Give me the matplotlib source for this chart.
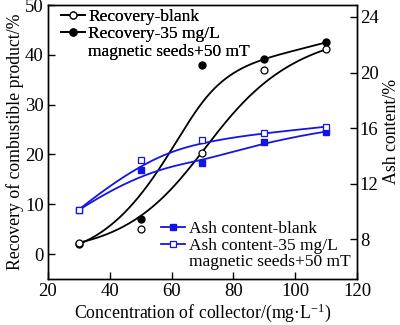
import numpy as np
import matplotlib
matplotlib.use("Agg")
import matplotlib.pyplot as plt
from matplotlib.lines import Line2D

plt.rcParams['font.family'] = ['Liberation Serif', 'DejaVu Serif']
plt.rcParams['mathtext.fontset'] = 'custom'
plt.rcParams['mathtext.rm'] = 'Liberation Serif'
plt.rcParams['mathtext.it'] = 'Liberation Serif:italic'

# ---- data ----
concentration = [30, 50, 70, 90, 110]
recovery_blank = [2.3, 5.0, 20.2, 37.0, 41.1]
recovery_seeds = [2.0, 7.0, 37.9, 39.2, 42.5]
ash_blank = [10.1, 12.95, 13.47, 15.03, 15.75]
ash_seeds = [10.13, 13.67, 15.15, 15.63, 16.1]

x_ticks = [20, 40, 60, 80, 100, 120]
left_ticks = [0, 10, 20, 30, 40, 50]
right_ticks = [8, 12, 16, 20, 24]


def bspline(px, py, k=3, n=300):
    px = np.asarray(px, float)
    py = np.asarray(py, float)
    m = len(px)
    knots = np.concatenate([np.zeros(k), np.linspace(0, 1, m - k + 1), np.ones(k)])
    t = np.linspace(0, 1, n)
    t[-1] -= 1e-10
    N = np.zeros((len(knots) - 1, n))
    for i in range(len(knots) - 1):
        N[i] = ((t >= knots[i]) & (t < knots[i + 1])).astype(float)
    for d in range(1, k + 1):
        Nn = np.zeros((len(knots) - 1 - d, n))
        for i in range(len(knots) - 1 - d):
            a = knots[i + d] - knots[i]
            b = knots[i + d + 1] - knots[i + 1]
            term = np.zeros(n)
            if a > 0:
                term += (t - knots[i]) / a * N[i]
            if b > 0:
                term += (knots[i + d + 1] - t) / b * N[i + 1]
            Nn[i] = term
        N = Nn
    return N.T @ px, N.T @ py


fig = plt.figure(figsize=(4.0, 3.25), dpi=100)
ax = fig.add_axes([0.12, 0.1415, 0.7725, 0.843])
ax2 = ax.twinx()

blk = 'black'
blu = '#1414e6'
lw = 1.3
ms = 5

# recovery (left axis)
bx, by = bspline(concentration, recovery_blank)
ax.plot(bx, by, color=blk, lw=lw)
sx, sy = bspline(concentration, recovery_seeds)
ax.plot(sx, sy, color=blk, lw=lw)
ax.plot(concentration, recovery_seeds, 'o', color=blk, ms=ms, mec=blk, mfc=blk)
ax.plot(concentration, recovery_blank, 'o', color=blk, ms=ms, mec=blk, mfc='white', mew=0.9)

# ash (right axis)
ax_, ay_ = bspline(concentration, ash_blank)
ax2.plot(ax_, ay_, color=blu, lw=lw)
cx, cy = bspline(concentration, ash_seeds)
ax2.plot(cx, cy, color=blu, lw=lw)
ax2.plot(concentration, ash_blank, 's', color=blu, ms=ms, mec=blu, mfc=blu)
ax2.plot(concentration, ash_seeds, 's', color=blu, ms=ms, mec=blu, mfc='white', mew=0.9)

ax.set_xlim(20, 120)
ax.set_ylim(-5, 50)
ax2.set_ylim(5.13, 24.86)
ax.set_xticks(x_ticks)
ax.set_yticks(left_ticks)
ax2.set_yticks(right_ticks)

fs_tick = 13.5
fs_lab = 12.8
fs_leg = 12.5
ax.tick_params(axis='both', direction='in', length=5, width=1, labelsize=fs_tick, top=False, pad=3)
ax2.tick_params(axis='y', direction='in', length=5, width=1, labelsize=fs_tick, pad=2)
for a in (ax, ax2):
    for s in a.spines.values():
        s.set_linewidth(1.0)

ax.set_xlabel('Concentration of collector/(mg·L$^{-1}$)', fontsize=fs_lab, labelpad=1)
ax.set_ylabel('Recovery of combustible product/%', fontsize=fs_lab, labelpad=1)
ax2.set_ylabel('Ash content/%', fontsize=fs_lab, rotation=90, va='center', ha='center')
ax2.yaxis.set_label_coords(1.112, 0.54)

# legends
h1 = Line2D([], [], color=blk, lw=lw, marker='o', ms=ms, mfc='white', mec=blk, mew=0.9)
h2 = Line2D([], [], color=blk, lw=lw, marker='o', ms=ms, mfc=blk, mec=blk)
h3 = Line2D([], [], color='none', lw=0)
leg1 = ax.legend([h1, h2, h3], ['Recovery-blank', 'Recovery-35 mg/L', 'magnetic seeds+50 mT'],
                 loc='upper left', bbox_to_anchor=(0.035, 0.993), frameon=False, fontsize=fs_leg,
                 handlelength=1.4, handletextpad=0.2, labelspacing=0.08, borderpad=0.1,
                 borderaxespad=0)
ax.add_artist(leg1)
g1 = Line2D([], [], color=blu, lw=lw, marker='s', ms=ms, mfc=blu, mec=blu)
g2 = Line2D([], [], color=blu, lw=lw, marker='s', ms=ms, mfc='white', mec=blu, mew=0.9)
g3 = Line2D([], [], color='none', lw=0)
leg2 = ax2.legend([g1, g2, g3], ['Ash content-blank', 'Ash content-35 mg/L', 'magnetic seeds+50 mT'],
                  loc='lower left', bbox_to_anchor=(0.36, 0.025), frameon=False, fontsize=fs_leg,
                  handlelength=1.4, handletextpad=0.2, labelspacing=0.02, borderpad=0.1,
                  borderaxespad=0)

fig.savefig('out.png', dpi=100)
